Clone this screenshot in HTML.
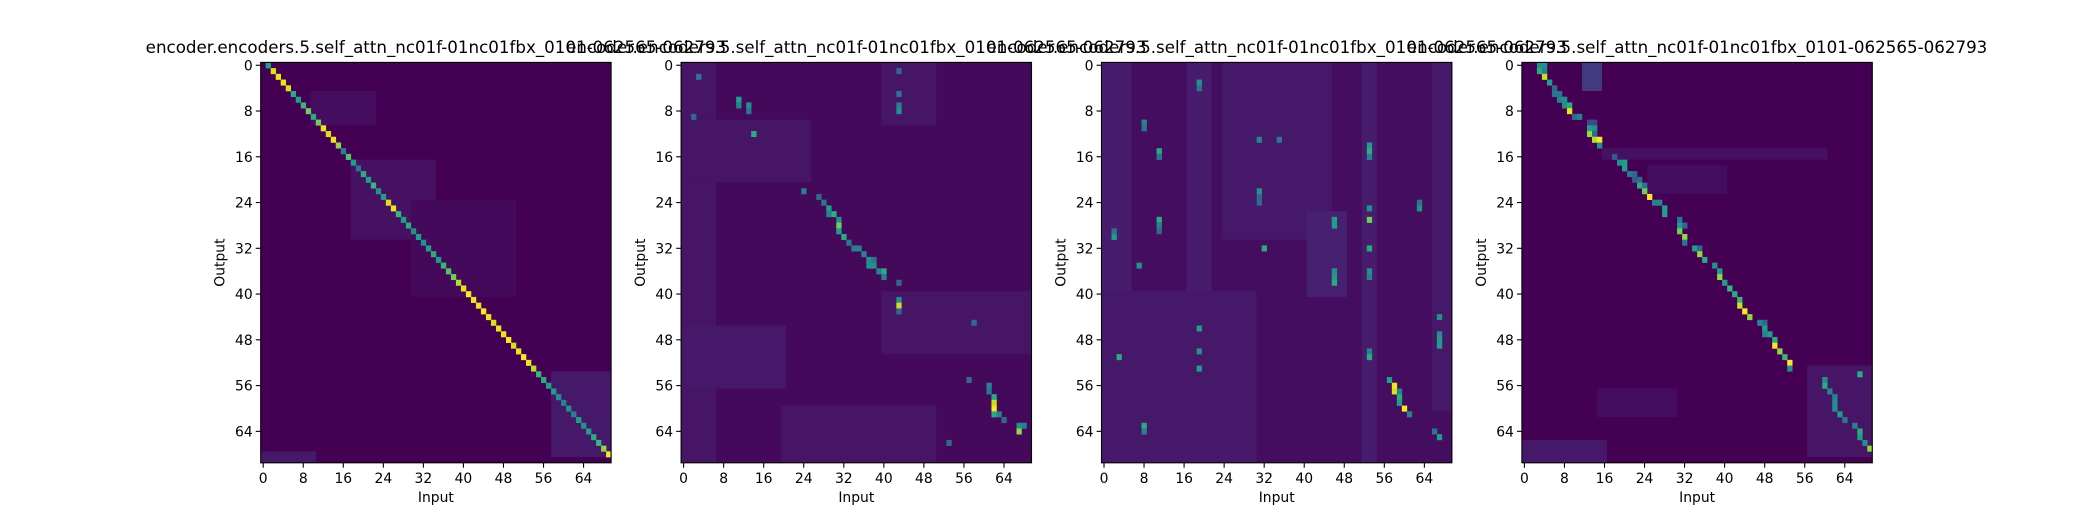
<!DOCTYPE html>
<html><head><meta charset="utf-8"><style>
body{margin:0;background:#fff}
svg text{font-family:"DejaVu Sans","Liberation Sans",sans-serif;fill:#000}
</style></head><body>
<svg id="fig" width="2080" height="520" xmlns="http://www.w3.org/2000/svg"></svg>
<script>
const N = 70;
const tickLabels = [0,8,16,24,32,40,48,56,64];
const titleText = "encoder.encoders.5.self_attn_nc01f-01nc01fbx_0101-062565-062793";
const baseVals = [0.0, 0.02, 0.03, 0.0];
const p1DiagVals = [0.5,0.9,0.95,0.95,0.9,0.55,0.5,0.6,0.7,0.55,0.7,0.95,0.9,0.95,0.75,0.4,0.65,0.5,0.35,0.55,0.5,0.6,0.45,0.5,0.9,0.95,0.6,0.5,0.55,0.45,0.5,0.45,0.5,0.55,0.5,0.6,0.65,0.7,0.8,0.95,1.0,0.95,0.95,1.0,0.95,0.9,0.95,0.95,1.0,0.9,0.95,1.0,0.95,0.8,0.6,0.55,0.5,0.5,0.45,0.4,0.45,0.4,0.5,0.45,0.5,0.55,0.6,0.75,1.0];
const p1Blocks = [[5,10,10,22,0.03],[17,30,18,34,0.04],[24,40,30,50,0.02],[54,68,58,69,0.06],[68,69,0,10,0.06]];
const p2Blocks = [[0,69,0,6,0.05],[10,20,0,25,0.05],[46,56,0,20,0.06],[40,50,40,69,0.05],[0,10,40,50,0.05],[60,69,20,50,0.05]];
const p3Blocks = [[0,69,0,5,0.07],[0,69,17,21,0.07],[0,30,24,45,0.06],[26,40,41,48,0.08],[0,69,52,54,0.07],[40,69,0,30,0.06],[0,60,66,69,0.06]];
const p4Blocks = [[15,16,16,60,0.04],[18,22,25,40,0.03],[53,68,57,69,0.05],[57,61,15,30,0.03],[66,69,0,16,0.06],[0,4,12,15,0.15]];
const p2Cells = [[6,11,0.5],[7,11,0.4],[7,13,0.45],[8,13,0.35],[12,14,0.55],[1,43,0.3],[5,43,0.35],[7,43,0.4],[8,43,0.45],[2,3,0.35],[9,2,0.3],[22,24,0.4],[23,27,0.3],[24,28,0.35],[25,29,0.5],[26,30,0.55],[26,29,0.4],[27,31,0.45],[28,31,0.7],[29,31,0.5],[30,32,0.55],[31,33,0.35],[32,34,0.4],[32,35,0.4],[33,36,0.4],[34,37,0.45],[34,38,0.35],[35,37,0.45],[35,38,0.45],[36,40,0.55],[36,39,0.4],[37,40,0.4],[38,43,0.3],[41,43,0.45],[42,43,0.85],[43,43,0.3],[45,58,0.3],[55,57,0.3],[56,61,0.4],[57,61,0.35],[58,62,0.55],[59,62,0.85],[60,62,1.0],[61,62,0.55],[61,63,0.4],[62,64,0.3],[63,67,0.45],[63,68,0.4],[64,67,0.75],[66,53,0.3]];
const p3Cells = [[56,58,0.95],[57,58,0.9],[55,57,0.5],[57,59,0.4],[58,59,0.55],[59,59,0.5],[60,60,1.0],[61,61,0.4],[14,53,0.5],[15,53,0.55],[16,53,0.4],[25,53,0.45],[27,53,0.7],[32,53,0.55],[36,53,0.45],[37,53,0.4],[50,53,0.4],[51,53,0.55],[15,11,0.55],[16,11,0.35],[27,11,0.55],[28,11,0.4],[29,11,0.3],[27,46,0.5],[28,46,0.5],[36,46,0.45],[37,46,0.5],[38,46,0.55],[30,2,0.5],[29,2,0.35],[10,8,0.4],[11,8,0.35],[51,3,0.55],[63,8,0.55],[64,8,0.4],[46,19,0.5],[50,19,0.45],[53,19,0.5],[65,67,0.5],[64,66,0.35],[44,67,0.45],[47,67,0.45],[48,67,0.5],[49,67,0.5],[23,31,0.3],[22,31,0.45],[24,31,0.3],[32,32,0.55],[35,7,0.45],[3,19,0.45],[4,19,0.35],[13,31,0.4],[13,35,0.35],[24,63,0.35],[25,63,0.45]];
const p4Cells = [[0,3,0.45],[0,4,0.45],[1,3,0.55],[1,4,0.4],[2,4,0.85],[3,5,0.5],[4,6,0.3],[5,6,0.35],[5,7,0.35],[6,7,0.4],[6,8,0.45],[7,8,0.45],[7,9,0.55],[8,9,0.95],[9,10,0.3],[9,11,0.4],[10,13,0.2],[10,14,0.2],[11,13,0.5],[11,14,0.45],[12,13,0.75],[12,14,0.3],[13,14,0.8],[13,15,1.0],[14,15,0.45],[16,18,0.25],[17,19,0.45],[17,20,0.5],[18,20,0.5],[19,21,0.35],[19,22,0.3],[20,22,0.25],[20,23,0.3],[21,23,0.55],[21,24,0.35],[22,24,0.7],[23,25,1.0],[24,26,0.4],[24,27,0.4],[25,28,0.5],[26,28,0.5],[27,31,0.35],[28,31,0.5],[28,32,0.3],[29,31,0.7],[30,32,0.75],[31,32,0.35],[32,34,0.5],[32,35,0.3],[33,35,0.75],[34,36,0.55],[35,38,0.45],[36,39,0.5],[37,39,0.75],[38,40,0.5],[39,41,0.6],[40,42,0.55],[41,43,0.6],[42,43,0.85],[43,44,1.0],[44,45,0.75],[45,47,0.4],[45,48,0.3],[46,48,0.5],[47,49,0.5],[47,48,0.4],[48,50,0.55],[49,50,1.0],[50,51,0.75],[51,52,0.6],[52,53,1.0],[53,53,0.45],[54,67,0.55],[55,60,0.45],[56,60,0.55],[57,61,0.4],[58,62,0.4],[59,62,0.45],[60,62,0.45],[61,63,0.5],[62,64,0.35],[63,66,0.4],[64,67,0.55],[65,67,0.5],[66,68,0.45],[67,69,0.75]];

const stops=[[0,[68,1,84]],[0.1,[72,40,120]],[0.2,[62,73,137]],[0.3,[49,104,142]],[0.4,[38,130,142]],[0.5,[31,158,137]],[0.6,[53,183,121]],[0.7,[110,206,88]],[0.8,[181,222,43]],[0.9,[216,226,25]],[1,[253,231,37]]];
function viridis(v){v=Math.max(0,Math.min(1,v));for(let i=1;i<stops.length;i++){if(v<=stops[i][0]){const a=stops[i-1],b=stops[i];const t=(v-a[0])/(b[0]-a[0]);const c=a[1].map((x,k)=>Math.round(x+(b[1][k]-x)*t));return `rgb(${c[0]},${c[1]},${c[2]})`;}}return 'rgb(253,231,37)';}

const svg=document.getElementById('fig');
const NS="http://www.w3.org/2000/svg";
function mk(tag,attrs,parent){const e=document.createElementNS(NS,tag);for(const k in attrs)e.setAttribute(k,attrs[k]);(parent||svg).appendChild(e);return e;}
const lefts=[260.7,681.1,1101.5,1521.9];
const W=350.4, TOP=62.4, H=400.4;
const cw=W/N, ch=H/N;

const panels=[
 {blocks:p1Blocks,cells:p1DiagVals.map((v,r)=>[r,r+1,v])},
 {blocks:p2Blocks,cells:p2Cells},
 {blocks:p3Blocks,cells:p3Cells},
 {blocks:p4Blocks,cells:p4Cells}
];
panels.forEach((p,pi)=>{
  const L=lefts[pi];
  const xS=c=>L+c*cw, yS=r=>TOP+r*ch;
  const g=mk('g',{});
  
  
  const bg=mk('rect',{x:L,y:TOP,width:W,height:H,fill:viridis(baseVals[pi])},g);
  
  
  p.blocks.forEach(b=>{
    const e=mk('rect',{x:xS(b[2]),y:yS(b[0]),width:(b[3]-b[2]+1)*cw,height:(b[1]-b[0]+1)*ch,fill:viridis(b[4])},g);
    
    
  });
  p.cells.forEach(c=>{
    if(c[1]>=N)return;
    const e=mk('rect',{x:xS(c[1]),y:yS(c[0]),width:cw+0.3,height:ch+0.3,fill:viridis(c[2])},g);
    
    
  });
  const fr=mk('rect',{x:L,y:TOP,width:W,height:H,fill:'none',stroke:'#000','stroke-width':1.1},g);
  
  
  tickLabels.forEach(t=>{
    const x=xS(t+0.5), y=yS(t+0.5);
    mk('line',{x1:x,x2:x,y1:TOP+H,y2:TOP+H+4.9,stroke:'#000','stroke-width':1.1},g);
    const tx=mk('text',{x:x,y:TOP+H+20,'font-size':13.9,'text-anchor':'middle'},g);
    tx.textContent=t;
    
    
    mk('line',{x1:L,x2:L-4.9,y1:y,y2:y,stroke:'#000','stroke-width':1.1},g);
    const ty=mk('text',{x:L-8,y:y+5,'font-size':13.9,'text-anchor':'end'},g);
    ty.textContent=t;
    
    
  });
  const xl=mk('text',{x:L+W/2,y:502,'font-size':13.9,'text-anchor':'middle'},g);
  xl.textContent='Input';
  
  
  const yx=L-36, yy=TOP+H/2;
  const yl=mk('text',{x:yx,y:yy,'font-size':13.9,'text-anchor':'middle',transform:`rotate(-90 ${yx} ${yy})`},g);
  yl.textContent='Output';
  
  
  const ti=mk('text',{x:L+W/2,y:53,'font-size':16.7,'text-anchor':'middle'},g);
  ti.textContent=titleText;
  
  
});
</script>
</body></html>
